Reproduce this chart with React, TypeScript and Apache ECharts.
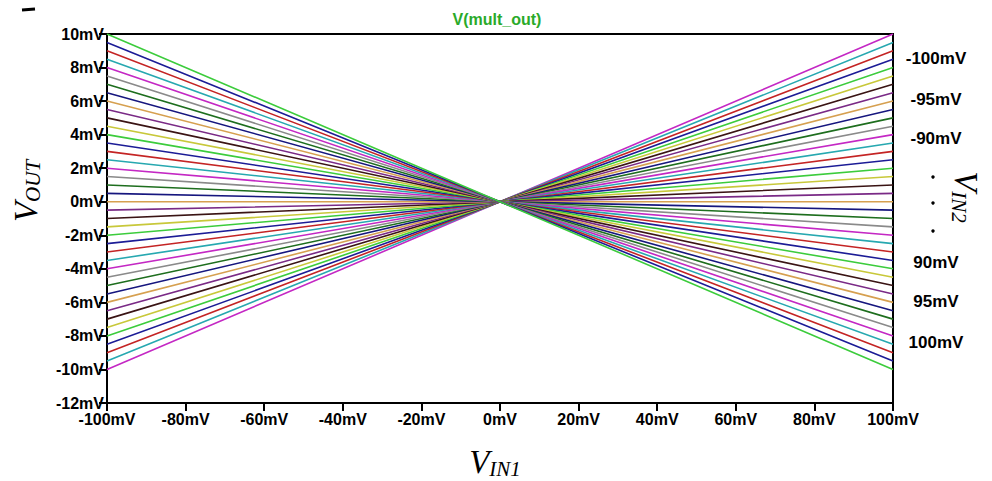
import React, { useEffect, useRef } from "react";
import * as echarts from "echarts";

// VIN2 sweep values (mV), one trace each
const vin2Steps: number[] = [
  -100, -95, -90, -85, -80, -75, -70, -65, -60, -55, -50, -45, -40, -35, -30, -25, -20, -15, -10, -5,
  0, 5, 10, 15, 20, 25, 30, 35, 40, 45, 50, 55, 60, 65, 70, 75, 80, 85, 90, 95, 100,
];
// VIN1 sample points (mV)
const vin1Points: number[] = [-100, 0, 100];
// VOUT read at VIN1 = -100mV (mV)
const voutAtLeft: number[] = [
  10, 9.5, 9, 8.5, 8, 7.5, 7, 6.5, 6, 5.5, 5, 4.5, 4, 3.5, 3, 2.5, 2, 1.5, 1, 0.5,
  0, -0.5, -1, -1.5, -2, -2.5, -3, -3.5, -4, -4.5, -5, -5.5, -6, -6.5, -7, -7.5, -8, -8.5, -9, -9.5, -10,
];
// VOUT read at VIN1 = 0mV (mV)
const voutAtCenter: number[] = [
  0, 0, 0, 0, 0, 0, 0, 0, 0, 0, 0, 0, 0, 0, 0, 0, 0, 0, 0, 0,
  0, 0, 0, 0, 0, 0, 0, 0, 0, 0, 0, 0, 0, 0, 0, 0, 0, 0, 0, 0, 0,
];
// VOUT read at VIN1 = +100mV (mV)
const voutAtRight: number[] = [
  -10, -9.5, -9, -8.5, -8, -7.5, -7, -6.5, -6, -5.5, -5, -4.5, -4, -3.5, -3, -2.5, -2, -1.5, -1, -0.5,
  0, 0.5, 1, 1.5, 2, 2.5, 3, 3.5, 4, 4.5, 5, 5.5, 6, 6.5, 7, 7.5, 8, 8.5, 9, 9.5, 10,
];
const rightLabels: string[] = ["-100mV", "-95mV", "-90mV", "90mV", "95mV", "100mV"];
const palette: string[] = [
  "#3ccc3c", "#1c1c96", "#c42424", "#27a8b0", "#c428c4", "#8a8a8a",
  "#1e6e1e", "#16167e", "#d6a050", "#7a2a86", "#3a1414", "#c8c83a",
];

export default function App() {
  const ref = useRef<HTMLDivElement>(null);
  useEffect(() => {
    if (!ref.current) return;
    const chart = echarts.init(ref.current, null, { renderer: "svg" });
    const series = vin2Steps.map((v, i) => ({
      name: `${v}mV`,
      type: "line",
      showSymbol: false,
      symbol: "none",
      silent: true,
      lineStyle: { width: 1.6, color: palette[i % palette.length] },
      data: [
        [vin1Points[0], voutAtLeft[i]],
        [vin1Points[1], voutAtCenter[i]],
        [vin1Points[2], voutAtRight[i]],
      ],
      z: 2 + (40 - i),
    }));
    const labelFont = {
      color: "#000",
      fontWeight: "bold",
      fontSize: 16,
      fontFamily: "Liberation Sans, Arial, sans-serif",
    };
    const mathRich = {
      v: { font: "italic 33px 'Liberation Serif', 'DejaVu Serif', serif", fill: "#000" },
      s: { font: "italic 21px 'Liberation Serif', 'DejaVu Serif', serif", fill: "#000", padding: [14, 0, 0, 0] },
    };
    const rightY = [58, 99, 138, 262, 301, 342];
    const graphic: any[] = [
      {
        type: "text",
        style: {
          text: "V(mult_out)",
          x: 497,
          y: 19,
          align: "center",
          verticalAlign: "middle",
          fill: "#2aaa2a",
          font: "bold 16px 'Liberation Sans', Arial, sans-serif",
        },
      },
      ...rightLabels.map((t, k) => ({
        type: "text",
        style: {
          text: t,
          x: 936,
          y: rightY[k],
          align: "center",
          verticalAlign: "middle",
          fill: "#000",
          font: "bold 17px 'Liberation Sans', Arial, sans-serif",
        },
      })),
      ...[177, 203, 231].map((y) => ({
        type: "circle",
        shape: { cx: 933, cy: y, r: 1.7 },
        style: { fill: "#000" },
      })),
      {
        type: "text",
        x: 26,
        y: 191,
        rotation: Math.PI / 2,
        style: { text: "{v|V}{s|OUT}", align: "center", verticalAlign: "middle", rich: mathRich },
      },
      {
        type: "text",
        x: 966,
        y: 197,
        rotation: -Math.PI / 2,
        style: { text: "{v|V}{s|IN2}", align: "center", verticalAlign: "middle", rich: mathRich },
      },
      {
        type: "text",
        x: 495,
        y: 462,
        style: { text: "{v|V}{s|IN1}", align: "center", verticalAlign: "middle", rich: mathRich },
      },
      {
        type: "line",
        shape: { x1: 22, y1: 10, x2: 35, y2: 9 },
        style: { stroke: "#000", lineWidth: 3 },
      },
    ];
    chart.setOption({
      animation: false,
      backgroundColor: "#fff",
      grid: {
        left: 107,
        right: 99,
        top: 34,
        bottom: 78,
        show: true,
        borderColor: "#000",
        borderWidth: 2,
        containLabel: false,
      },
      xAxis: {
        type: "value",
        min: -100,
        max: 100,
        interval: 20,
        axisLine: { show: true, onZero: false, lineStyle: { color: "#000", width: 2 } },
        axisTick: { show: true, inside: false, length: 8, lineStyle: { color: "#000", width: 2 } },
        splitLine: { show: false },
        axisLabel: { ...labelFont, margin: 8, formatter: (v: number) => `${v}mV` },
      },
      yAxis: {
        type: "value",
        min: -12,
        max: 10,
        interval: 2,
        axisLine: { show: true, onZero: false, lineStyle: { color: "#000", width: 2 } },
        axisTick: { show: true, inside: false, length: 8, lineStyle: { color: "#000", width: 2 } },
        splitLine: { show: false },
        axisLabel: { ...labelFont, margin: 3, formatter: (v: number) => `${v}mV` },
      },
      series,
      graphic,
    });
    return () => chart.dispose();
  }, []);
  return <div ref={ref} style={{ width: 992, height: 481, position: "fixed", left: 0, top: 0 }} />;
}
